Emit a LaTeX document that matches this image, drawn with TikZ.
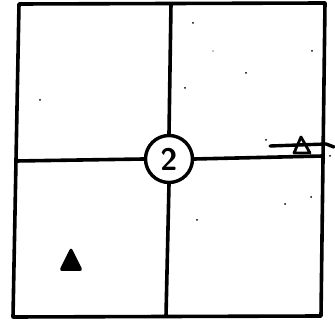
\documentclass[tikz,border=0pt]{standalone}
\begin{document}
\begin{tikzpicture}[x=1pt,y=-1pt,
  ink/.style={line width=3.6pt,line cap=round,line join=round},
  speck/.style={fill=black}]
\useasboundingbox (0,0) rectangle (335,320);
% outer frame
\coordinate (tl) at (19,4);
\coordinate (tr) at (325,3);
\coordinate (br) at (321,316);
\coordinate (bl) at (13,317);
\draw[ink] (tl) -- (tr) -- (br) -- (bl) -- cycle;
% centre marker
\node[draw,circle,line width=3.4pt,minimum size=47pt,inner sep=0pt,font=\sffamily\bfseries\fontsize{31}{31}\selectfont] (c) at (169,159) {2};
% cross lines
\coordinate (vt) at (171,4);
\coordinate (vb) at (166,316);
\coordinate (hl) at (16,161);
\coordinate (hr) at (323,156);
\draw[ink] (vt) -- (c.north);
\draw[ink] (c.south) -- (vb);
\draw[ink] (hl) -- (c.west);
\draw[ink] (c.east) -- (hr);
% right-side mark
\coordinate (m1) at (270,146);
\coordinate (m2) at (326,144);
\coordinate (m3) at (334,147);
\draw[ink,line width=3.4pt] (m1) -- (m2) -- (m3);
\coordinate (ta) at (301,137);
\coordinate (tb) at (294,153);
\coordinate (tc) at (310,153);
\draw[line width=2.8pt,line join=round] (ta) -- (tb) -- (tc) -- cycle;
% filled triangle
\coordinate (fa) at (71,247);
\coordinate (fb) at (59,271);
\coordinate (fc) at (83,271);
\fill[rounded corners=3pt] (fa) -- (fb) -- (fc) -- cycle;
% specks
\foreach \p in {(193,23),(312,51),(246,73),(185,88),(40,100),(266,140),(330,156),(285,204),(311,197),(197,220)}
  \fill \p circle (1pt);
\fill (213,51) circle (0.6pt);
\end{tikzpicture}
\end{document}
